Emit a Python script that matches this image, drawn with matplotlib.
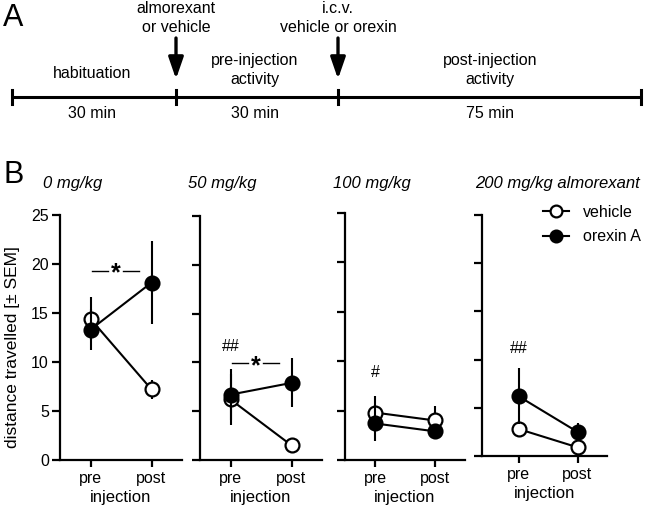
import matplotlib
matplotlib.use("Agg")
import matplotlib.pyplot as plt
from matplotlib.lines import Line2D
import numpy as np

plt.rcParams['font.family'] = ['Liberation Sans', 'DejaVu Sans']

W, H = 645, 514

# ---- data ----
doses = ["0 mg/kg", "50 mg/kg", "100 mg/kg", "200 mg/kg almorexant"]
timepoints = ["pre", "post"]
vehicle_mean = [[14.4, 7.2], [6.2, 1.5], [4.8, 4.0], [2.8, 0.9]]
vehicle_sem = [[2.2, 1.0], [2.6, 0.4], [1.7, 1.5], [0.8, 0.3]]
orexin_mean = [[13.3, 18.1], [6.7, 7.9], [3.7, 2.9], [6.2, 2.5]]
orexin_sem = [[2.1, 4.2], [2.6, 2.5], [1.8, 0.7], [2.9, 0.9]]
yticks = [0, 5, 10, 15, 20, 25]
hash_marks = ["", "##", "#", "##"]
hash_y = [None, 11.6, 8.9, 11.2]
star_y = [19.3, 9.9, None, None]

phases = ["habituation", "pre-injection\nactivity", "post-injection\nactivity"]
durations = ["30 min", "30 min", "75 min"]
events = ["almorexant\nor vehicle", "i.c.v.\nvehicle or orexin"]

FS = 11.5

fig = plt.figure(figsize=(W / 100, H / 100), dpi=100)

# ---- Panel A (schematic, pixel coordinates) ----
axA = fig.add_axes([0, 1 - 135 / H, 1, 135 / H])
axA.set_xlim(0, W)
axA.set_ylim(135, 0)
axA.axis('off')
tl_x = [12, 176, 338, 641]
tl_y = 97
axA.plot([tl_x[0], tl_x[-1]], [tl_y, tl_y], color='black', lw=2.2, solid_capstyle='butt')
for x in tl_x:
    axA.plot([x, x], [tl_y - 7, tl_y + 7], color='black', lw=2.2)
dur_x = [92, 255, 490]
for i in range(3):
    axA.text(dur_x[i], 113, durations[i], ha='center', va='center', fontsize=FS)
axA.text(92, 74, phases[0], ha='center', va='center', fontsize=FS)
axA.text(255, 70, phases[1], ha='center', va='center', fontsize=FS, linespacing=1.3)
axA.text(490, 70, phases[2], ha='center', va='center', fontsize=FS, linespacing=1.3)
for x, ev in zip(tl_x[1:3], events):
    axA.annotate('', xy=(x, 79), xytext=(x, 38),
                 arrowprops=dict(arrowstyle='-|>,head_length=1.3,head_width=0.45',
                                 color='black', lw=2.4, shrinkA=0, shrinkB=0))
    axA.text(x, 18, ev, ha='center', va='center', fontsize=FS, linespacing=1.3)
axA.text(3, 18, "A", ha='left', va='center', fontsize=22)

# ---- Panel B ----
boxes = [(60, 182, 215, 460, -0.5, 1.5),
         (200, 322, 216, 460, -0.5, 1.5),
         (345, 465, 213, 460, -0.5, 1.5),
         (482, 607, 215, 456, -0.62, 1.5)]
title_x = [43, 188, 333, 475]

for i, (x0, x1, y0, y1, xl, xr) in enumerate(boxes):
    ax = fig.add_axes([x0 / W, 1 - y1 / H, (x1 - x0) / W, (y1 - y0) / H])
    xs = np.arange(len(timepoints))
    ax.errorbar(xs, vehicle_mean[i], yerr=vehicle_sem[i], color='black', lw=1.5,
                elinewidth=1.5, capsize=0, marker='o', ms=10, mfc='white', mec='black',
                mew=1.6, zorder=3)
    ax.errorbar(xs, orexin_mean[i], yerr=orexin_sem[i], color='black', lw=1.5,
                elinewidth=1.5, capsize=0, marker='o', ms=10, mfc='black', mec='black',
                mew=1.6, zorder=4)
    ax.set_xlim(xl, xr)
    ax.set_ylim(0, 25)
    ax.set_yticks(yticks)
    ax.set_xticks(xs)
    ax.set_xticklabels(timepoints, fontsize=FS)
    for s in ['top', 'right']:
        ax.spines[s].set_visible(False)
    for s in ['left', 'bottom']:
        ax.spines[s].set_linewidth(1.6)
    ax.tick_params(axis='both', direction='out', width=1.6, length=5, pad=3)
    ax.tick_params(axis='y', length=6, labelsize=FS, pad=2)
    if i == 0:
        ax.set_ylabel("distance travelled [± SEM]", fontsize=12.5, labelpad=3)
        ax.yaxis.set_label_coords(-0.33, 0.46)
    else:
        ax.set_yticklabels([])
    ax.set_xlabel("injection", fontsize=12, labelpad=3)
    if hash_marks[i]:
        ax.text(0, hash_y[i], hash_marks[i], ha='center', va='center', fontsize=FS)
    if star_y[i] is not None:
        yy = star_y[i]
        ax.plot([0.02, 0.28], [yy, yy], color='black', lw=1)
        ax.plot([0.54, 0.80], [yy, yy], color='black', lw=1)
        ax.text(0.41, yy - 0.3, "*", ha='center', va='center', fontsize=18, fontweight='bold')
    fig.text(title_x[i] / W, 1 - 183 / H, doses[i], ha='left', va='center',
             fontsize=12, style='italic')
    if i == 3:
        handles = [Line2D([], [], color='black', lw=1.5, marker='o', ms=8.5,
                          mfc='white', mec='black', mew=1.6),
                   Line2D([], [], color='black', lw=1.5, marker='o', ms=8.5,
                          mfc='black', mec='black', mew=1.6)]
        ax.legend(handles, ['vehicle', 'orexin A'], loc='upper left',
                  bbox_to_anchor=(0.44, 1.07), frameon=False,
                  fontsize=FS, handlelength=1.6, handletextpad=0.9, labelspacing=0.6,
                  borderaxespad=0)

fig.text(3 / W, 1 - 175 / H, "B", ha='left', va='center', fontsize=22)

fig.savefig("out.png", dpi=100)
